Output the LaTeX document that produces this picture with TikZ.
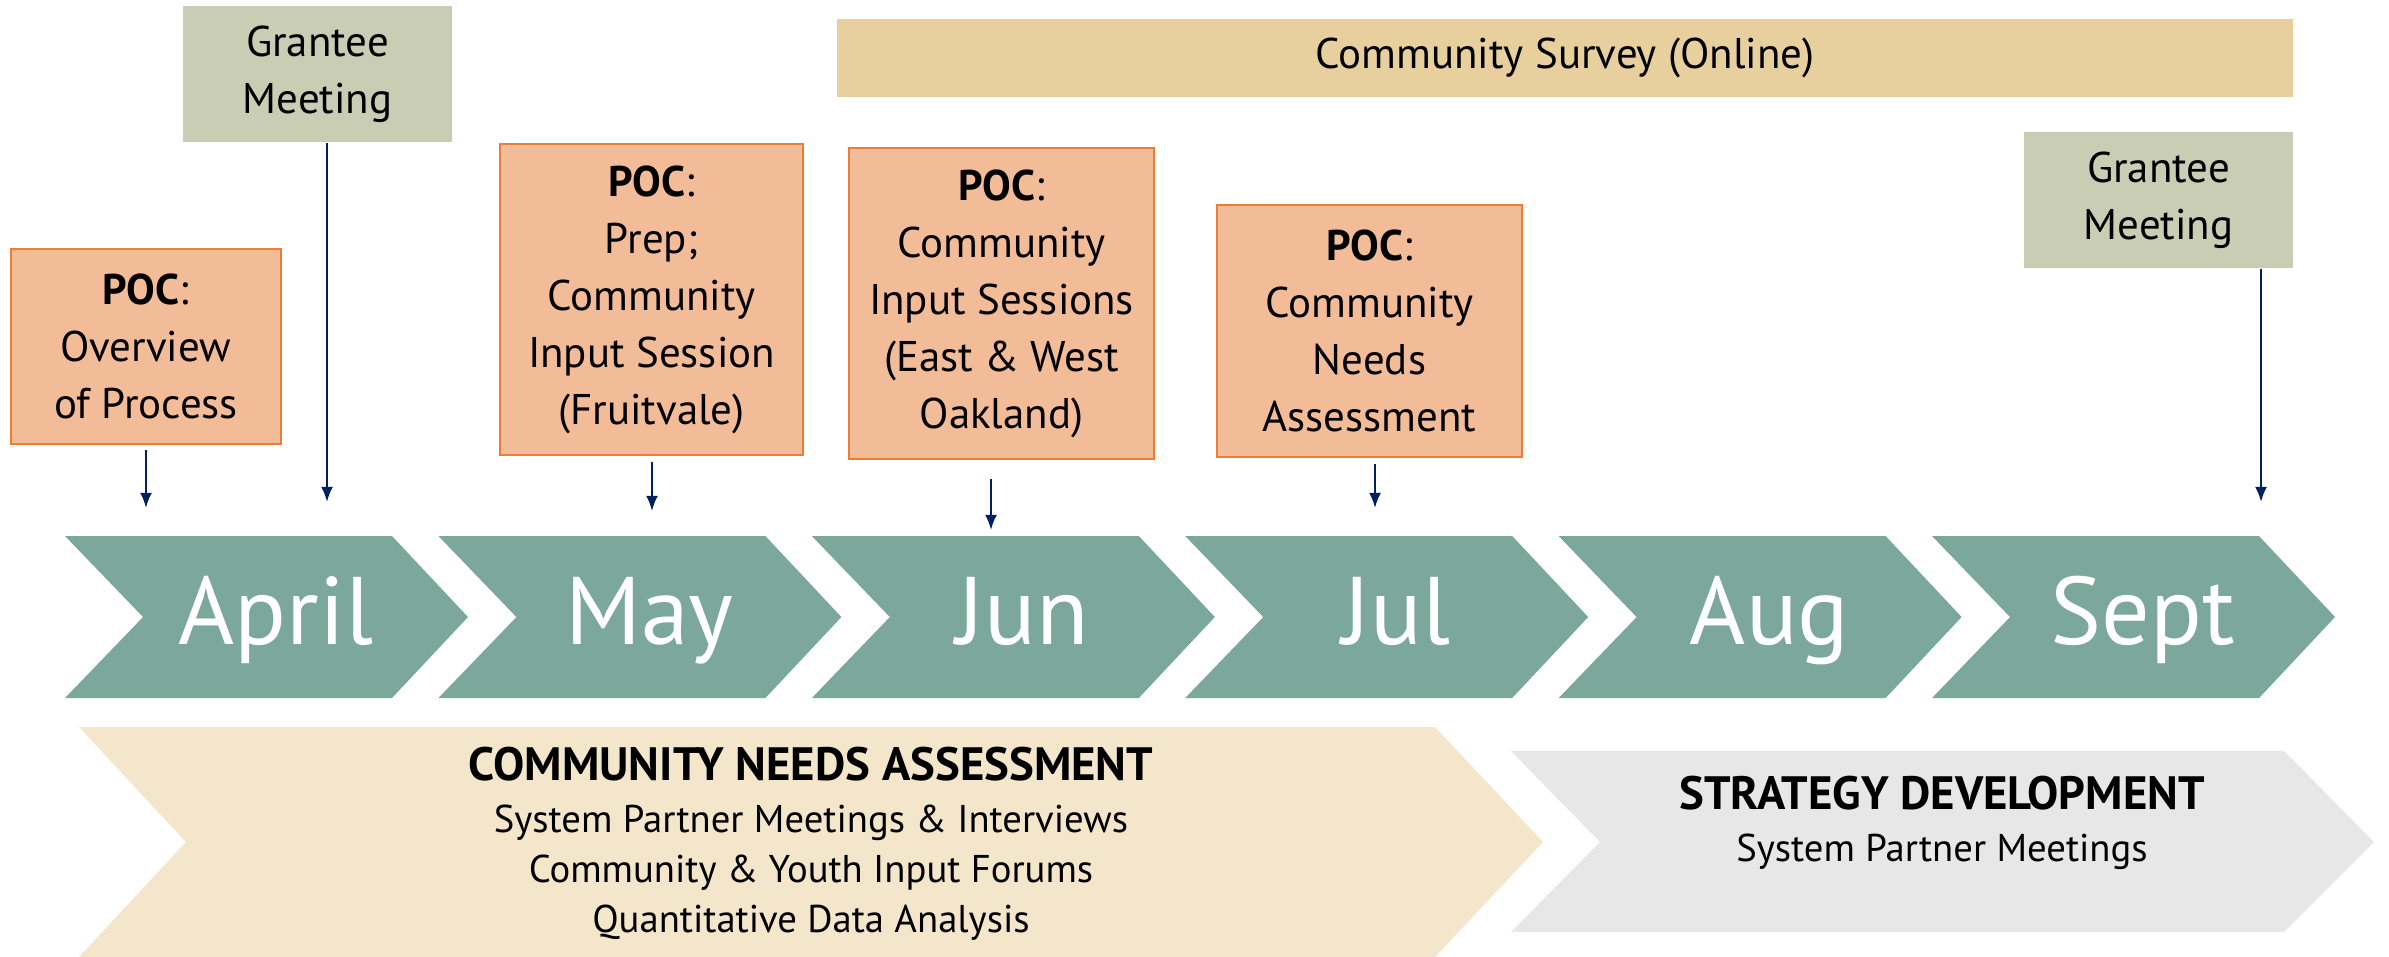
\documentclass[tikz,border=0pt]{standalone}
\usepackage{fontspec}
\setmainfont{PT Sans}
\usetikzlibrary{arrows.meta}
\definecolor{chevgreen}{HTML}{7CA89C}
\definecolor{pocfill}{HTML}{F3BC99}
\definecolor{pocline}{HTML}{ED7D31}
\definecolor{grfill}{HTML}{C9CDB3}
\definecolor{surveyfill}{HTML}{E8D09E}
\definecolor{cnafill}{HTML}{F3E6CB}
\definecolor{sdfill}{HTML}{E8E7E8}
\definecolor{navy}{HTML}{002060}
\begin{document}
\begin{tikzpicture}[x=0.01cm,y=-0.01cm,
	poc/.style={draw=pocline,line width=0.6pt,fill=pocfill,align=center,inner sep=0pt,font=\fontsize{12.2}{16.2}\selectfont},
	grantee/.style={fill=grfill,align=center,inner sep=0pt,minimum width=2.69cm,minimum height=1.36cm,font=\fontsize{12.2}{16.2}\selectfont},
	month/.style={text=white,inner sep=0pt,anchor=base,font=\fontsize{27.3}{30}\selectfont},
	phase/.style={align=center,inner sep=0pt,font=\fontsize{11}{14.2}\selectfont},
	tick/.style={->,>={Latex[length=4.3pt,width=3.4pt]},draw=navy,line width=0.65pt}]
	\useasboundingbox (0,0) rectangle (2389,956);
	\foreach \mon [count=\i from 0] in {April,May,Jun,Jul,Aug,Sept}
	{
	\fill[chevgreen] ({65+\i*373.4},536) -- ({392+\i*373.4},536) -- ({468+\i*373.4},617) -- ({392+\i*373.4},698) -- ({65+\i*373.4},698) -- ({143+\i*373.4},617) -- cycle;
	\node[month] (m\i) at ({276+\i*373.4},644) {\mon};
	}
	\fill[cnafill] (79,727) -- (1435,727) -- (1543,842) -- (1435,957) -- (79,957) -- (186,842) -- cycle;
	\fill[sdfill] (1511,751) -- (2284,751) -- (2374,842) -- (2284,932) -- (1511,932) -- (1600,842) -- cycle;
	\node[phase] (cna) at (811,844) {{\fontsize{13.3}{15}\selectfont\bfseries COMMUNITY NEEDS ASSESSMENT}\\[0.6pt]System Partner Meetings \& Interviews\\Community \& Youth Input Forums\\Quantitative Data Analysis};
	\node[phase] (sd) at (1942,823) {{\fontsize{13.3}{15}\selectfont\bfseries STRATEGY DEVELOPMENT}\\[0.6pt]System Partner Meetings};
	\node[fill=surveyfill,inner sep=0pt,minimum width=14.56cm,minimum height=0.78cm,font=\fontsize{12.2}{16.2}\selectfont] (survey) at (1565,58) {Community Survey (Online)};
	\node[grantee] (g1) at (317.5,74) {Grantee\\Meeting};
	\node[grantee] (g2) at (2158.5,200) {Grantee\\Meeting};
	\node[poc,minimum width=2.70cm,minimum height=1.95cm] (poc1) at (146,346.5) {\textbf{POC}:\\Overview\\of Process};
	\node[poc,minimum width=3.03cm,minimum height=3.11cm] (poc2) at (651.5,299.5) {\textbf{POC}:\\Prep;\\Community\\Input Session\\(Fruitvale)};
	\node[poc,minimum width=3.05cm,minimum height=3.11cm] (poc3) at (1001.5,303.5) {\textbf{POC}:\\Community\\Input Sessions\\(East \& West\\Oakland)};
	\node[poc,minimum width=3.05cm,minimum height=2.52cm] (poc4) at (1369.5,331) {\textbf{POC}:\\Community\\Needs\\Assessment};
	\coordinate (t1) at (146,508);
	\coordinate (t2) at (327,502);
	\coordinate (t3) at (652,511);
	\coordinate (t4) at (991,530);
	\coordinate (t5) at (1375,508);
	\coordinate (t6) at (2261,502);
	\draw[tick,shorten <=0.05cm] (poc1.south -| t1) -- (t1);
	\draw[tick] (g1.south -| t2) -- (t2);
	\draw[tick,shorten <=0.06cm] (poc2.south -| t3) -- (t3);
	\draw[tick,shorten <=0.19cm] (poc3.south -| t4) -- (t4);
	\draw[tick,shorten <=0.06cm] (poc4.south -| t5) -- (t5);
	\draw[tick] (g2.south -| t6) -- (t6);
\end{tikzpicture}
\end{document}
